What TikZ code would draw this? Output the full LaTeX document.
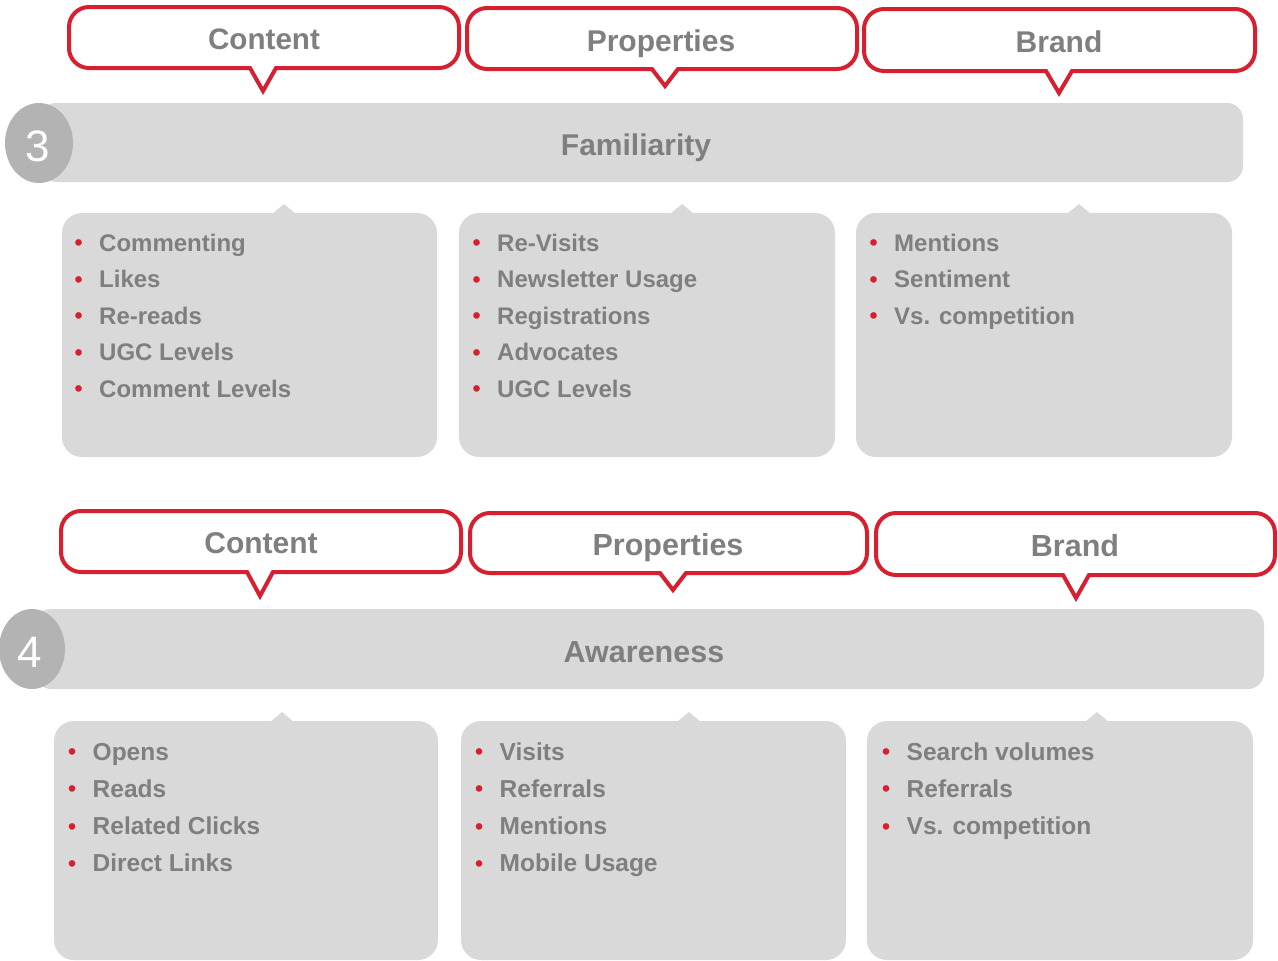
\documentclass[tikz,border=0pt]{standalone}
\usepackage{fontspec}
\setmainfont{Liberation Sans}
\definecolor{bred}{HTML}{D6202F}
\definecolor{tgray}{HTML}{7F7F7F}
\definecolor{bgray}{HTML}{D9D9D9}
\definecolor{cgray}{HTML}{B3B3B3}
\tikzset{
  callbox/.style={draw=bred, line width=4pt, fill=white, line join=miter},
  headtext/.style={anchor=base, inner sep=0pt, text=tgray, font=\fontsize{#1}{#1}\selectfont\bfseries},
  numtext/.style={anchor=base, inner sep=0pt, text=white, font=\fontsize{44}{44}\selectfont},
  item/.style={anchor=base west, inner sep=0pt, text=tgray, font=\fontsize{#1}{#1}\selectfont\bfseries},
  numdisc/.style={fill=cgray},
}
\newcommand\bul{\makebox[24.5pt][l]{\raisebox{0.5pt}{\textcolor{bred}{\fontsize{23}{23}\selectfont •}}}}
% callout: x1 y1 x2 y2 tipx tipy
\newcommand\callout[6]{%
  \draw[callbox] (#1+20,#2) -- (#3-20,#2)
     arc[start angle=90, end angle=0, radius=20pt] -- (#3,#4-20)
     arc[start angle=0, end angle=-90, radius=20pt] -- (#5+13,#4) -- (#5,#6) -- (#5-13,#4) -- (#1+20,#4)
     arc[start angle=-90, end angle=-180, radius=20pt] -- (#1,#2+20)
     arc[start angle=180, end angle=90, radius=20pt] -- cycle;
}
% gray box with tab: x1 y1 x2 y2 tabx
\newcommand\gbox[5]{%
  \fill[bgray, rounded corners=20pt] (#1,#2) rectangle (#3,#4);
  \fill[bgray] (#5-12,#2+1) -- (#5,#2-9) -- (#5+12,#2+1) -- cycle;
}
% list: name x baseline step fontsize items
\newcommand\blist[6]{%
  \foreach \t [count=\i] in {#6} {
    \node[item=#5] (#1-\i) at (#2, {#3+(\i-1)*#4}) {\bul\t};
  }
}
\begin{document}
\begin{tikzpicture}[x=1pt, y=-1pt]
\useasboundingbox (0,0) rectangle (1278,961);

% ---------- Row 1 ----------
\callout{69}{7}{459}{68}{263}{91}
\callout{467}{8}{857}{69}{665}{86}
\callout{864}{9}{1255}{71}{1059}{93}
\node[headtext=29.6] (h1c) at (264,49) {Content};
\node[headtext=30] (h1p) at (661,51) {Properties};
\node[headtext=30] (h1b) at (1059,52) {Brand};

\fill[bgray, rounded corners=16pt] (40,103) rectangle (1243,182);
\fill[numdisc] (39,143) ellipse [x radius=34pt, y radius=40pt];
\node[numtext] (n3) at (38,161) {3};
\node[headtext=30] (fam) at (636,155) {Familiarity};

\gbox{62}{213}{437}{457}{284}
\gbox{459}{213}{835}{457}{682}
\gbox{856}{213}{1232}{457}{1079}
\blist{a}{74.5}{251}{36.5}{24}{Commenting,Likes,Re-reads,UGC Levels,Comment Levels}
\blist{b}{472.5}{251}{36.5}{24}{Re-Visits,Newsletter Usage,Registrations,Advocates,UGC Levels}
\blist{c}{869.5}{251}{36.5}{24}{Mentions,Sentiment,Vs. competition}

% ---------- Row 2 ----------
\callout{61}{511}{461}{572}{260}{596}
\callout{470}{513}{867}{573}{673}{590}
\callout{876}{513}{1275}{575}{1076}{598}
\node[headtext=30] (h2c) at (261,553) {Content};
\node[headtext=30.5] (h2p) at (668,555) {Properties};
\node[headtext=30.5] (h2b) at (1075,556) {Brand};

\fill[bgray, rounded corners=16pt] (35,609) rectangle (1264,689);
\fill[numdisc] (32,649) ellipse [x radius=33pt, y radius=40pt];
\node[numtext] (n4) at (30,667) {4};
\node[headtext=30.5] (awa) at (644,662) {Awareness};

\gbox{54}{721}{438}{960}{282}
\gbox{461}{721}{846}{960}{689}
\gbox{867}{721}{1253}{960}{1097}
\blist{d}{68}{760}{37.3}{24.5}{Opens,Reads,Related Clicks,Direct Links}
\blist{e}{475}{760}{37.3}{24.5}{Visits,Referrals,Mentions,Mobile Usage}
\blist{f}{882}{760}{37.3}{24.5}{Search volumes,Referrals,Vs. competition}
\end{tikzpicture}
\end{document}
